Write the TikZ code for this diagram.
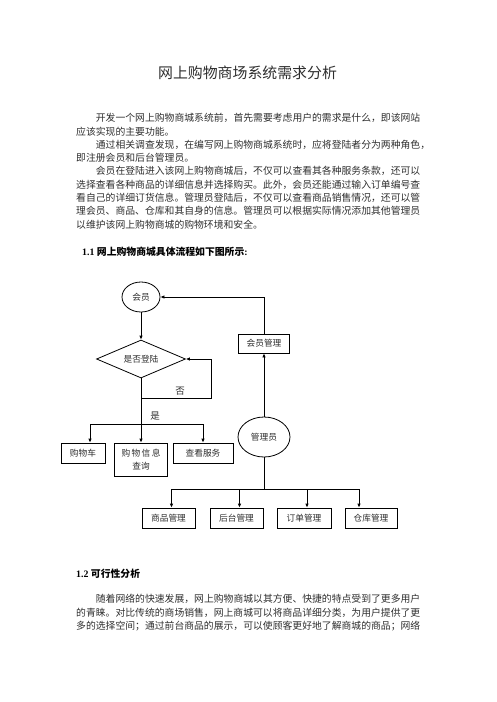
\documentclass[tikz,border=0pt]{standalone}
\usepackage{fontspec}
\setmainfont{Liberation Serif}
\newfontfamily\cjk{Noto Sans CJK SC}
\usetikzlibrary{arrows.meta, positioning, shapes.geometric}
\XeTeXlinebreaklocale "zh"
\XeTeXlinebreakskip=0pt plus 1pt
\newcommand{\fullln}[1]{\makebox[344pt][s]{#1}}
\newcommand{\indln}[1]{\makebox[324.3pt][s]{#1}}

\begin{document}
\begin{tikzpicture}[x=1pt, y=-1pt,
  txt/.style={anchor=west, inner sep=0pt, text=black!82,
              font=\cjk\fontsize{9.83}{12}\selectfont},
  head/.style={anchor=west, inner sep=0pt, text=black,
               font=\bfseries\fontsize{9.83}{12}\selectfont},
  box/.style={draw, line width=0.8pt, inner sep=0pt, minimum height=20pt,
              align=center, text=black!82, font=\cjk\fontsize{8.7}{13}\selectfont},
  oval/.style={draw, ellipse, line width=0.8pt, inner sep=0pt, text=black!82,
               font=\cjk\fontsize{8.7}{11}\selectfont},
  cond/.style={draw, diamond, aspect=2.3, line width=0.8pt, inner sep=0pt,
               text=black!82, font=\cjk\fontsize{8.7}{11}\selectfont},
  arr/.style={-{Latex[length=4pt, width=3.6pt]}, line width=0.8pt},
  lnk/.style={line width=0.8pt},
  lbl/.style={inner sep=0pt, text=black!82, font=\cjk\fontsize{9.5}{11}\selectfont}
]
\useasboundingbox (0,0) rectangle (496,702);

\node[inner sep=0pt, text=black!82, font=\cjk\fontsize{14.9}{16}\selectfont]
     (title) at (247.5,73) {网上购物商场系统需求分析};

\node[txt] (p1a) at (95.7,118)   {\indln{开发一个网上购物商城系统前，首先需要考虑用户的需求是什么，即该网站}};
\node[txt] (p1b) at (76,131.3)   {应该实现的主要功能。};
\node[txt] (p1c) at (95.7,144.6) {\indln{通过相关调查发现，在编写网上购物商城系统时，应将登陆者分为两种角色，}};
\node[txt] (p1d) at (76,157.9)   {即注册会员和后台管理员。};
\node[txt] (p1e) at (95.7,171.2) {\indln{会员在登陆进入该网上购物商城后，不仅可以查看其各种服务条款，还可以}};
\node[txt] (p1f) at (76,184.5)   {\fullln{选择查看各种商品的详细信息并选择购买。此外，会员还能通过输入订单编号查}};
\node[txt] (p1g) at (76,197.8)   {\fullln{看自己的详细订货信息。管理员登陆后，不仅可以查看商品销售情况，还可以管}};
\node[txt] (p1h) at (76,211.1)   {\fullln{理会员、商品、仓库和其自身的信息。管理员可以根据实际情况添加其他管理员}};
\node[txt] (p1i) at (76,224.4)   {以维护该网上购物商城的购物环境和安全。};

\node[head] (h11) at (82,252) {1.1 {\cjk 网上购物商城具体流程如下图所示}:};

\node[oval, minimum width=38pt, minimum height=30pt] (member) at (141,297) {会员};
\node[cond, minimum width=89pt, minimum height=38pt] (login) at (141,359) {是否登陆};
\coordinate (nojoin) at (141,398);
\coordinate (nocorner) at (211,398);
\coordinate (split) at (141,424);
\node[lbl] (no) at (180,391) {否};
\node[lbl] (yes) at (155,416) {是};

\node[box, minimum width=44pt] (cart) at (83,453) {购物车};
\node[box, minimum width=53pt, minimum height=33pt] (query) at (141,459.5)
     {\makebox[39pt]{购\hfill 物\hfill 信\hfill 息}\\查询};
\node[box, minimum width=60pt] (service) at (203,453) {查看服务};

\node[box, minimum width=51pt, minimum height=19pt] (mgr) at (264,343.5) {会员管理};
\node[oval, minimum width=52pt, minimum height=40pt] (admin) at (264,437) {管理员};
\coordinate (fork) at (264,489);

\node[box, minimum width=53pt] (goods) at (168.5,518) {商品管理};
\node[box, minimum width=53pt] (backend) at (236.5,518) {后台管理};
\node[box, minimum width=54pt] (order) at (304,518) {订单管理};
\node[box, minimum width=52pt] (store) at (371,518) {仓库管理};

\draw[arr] (member) -- (login);
\draw[arr] (login.south) -- (query.north);
\draw[arr] (nojoin) -- (nocorner) |- (login.east);
\draw[arr] (split) -| ([xshift=7pt]cart.north);
\draw[arr] (split) -| (service.north);
\draw[arr] (admin) -- (mgr);
\draw[arr] (mgr.north) |- (member.east);
\draw[lnk] (admin) -- (fork);
\draw[arr] (fork) -| ([xshift=3pt]goods.north);
\draw[arr] (fork) -| ([xshift=3pt]backend.north);
\draw[arr] (fork) -| ([xshift=3pt]order.north);
\draw[arr] (fork) -| ([xshift=-12pt]store.north);

\node[head] (h12) at (76,574) {1.2 {\cjk 可行性分析}};

\node[txt] (p2a) at (95.7,598.5) {\indln{随着网络的快速发展，网上购物商城以其方便、快捷的特点受到了更多用户}};
\node[txt] (p2b) at (76,612.5)   {\fullln{的青睐。对比传统的商场销售，网上商城可以将商品详细分类，为用户提供了更}};
\node[txt] (p2c) at (76,626.5)   {\fullln{多的选择空间；通过前台商品的展示，可以使顾客更好地了解商城的商品；网络}};
\end{tikzpicture}
\end{document}
